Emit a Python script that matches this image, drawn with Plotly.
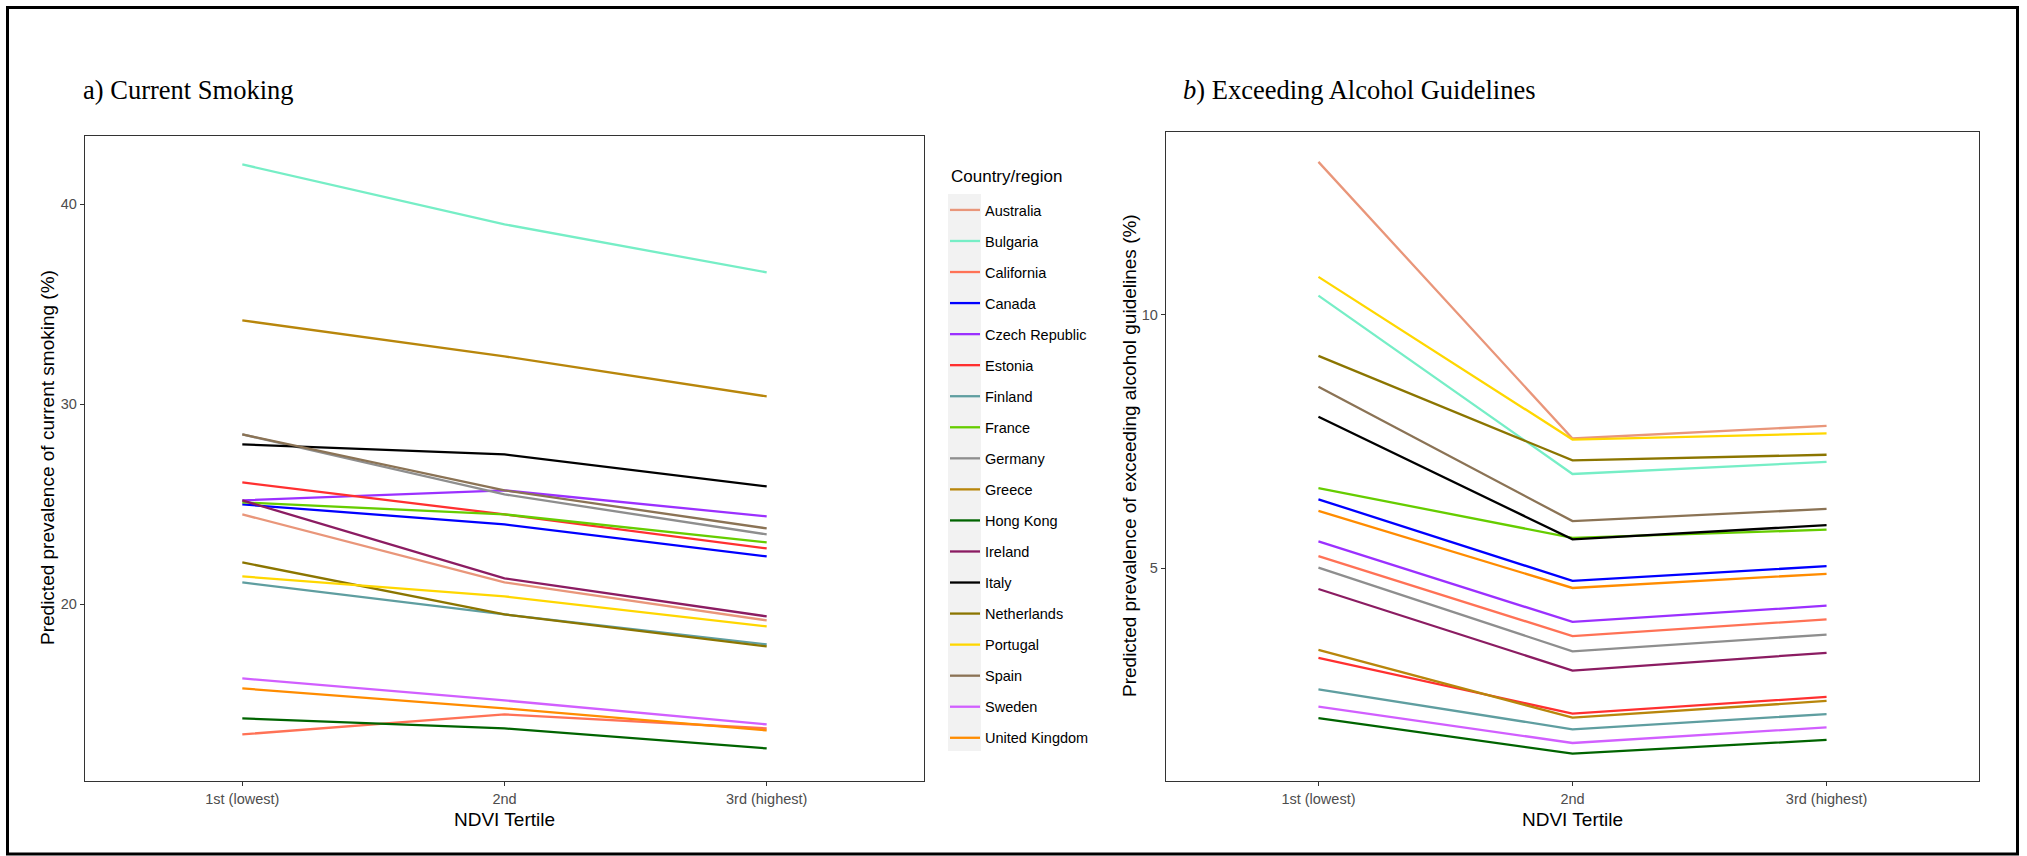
import plotly.graph_objects as go

# NDVI tertile categories
tertiles = ["1st (lowest)", "2nd", "3rd (highest)"]

countries = [
    "Australia", "Bulgaria", "California", "Canada", "Czech Republic",
    "Estonia", "Finland", "France", "Germany", "Greece", "Hong Kong",
    "Ireland", "Italy", "Netherlands", "Portugal", "Spain", "Sweden",
    "United Kingdom",
]

colors = [
    "#E9967A", "#76EEC6", "#FF7256", "#0000FF", "#9B30FF",
    "#FF3030", "#5F9EA0", "#66CD00", "#8E8E8E", "#B8860B", "#006400",
    "#8B1C62", "#000000", "#8B7500", "#FFD700", "#8B7355", "#D15FFF",
    "#FF8C00",
]

# Predicted prevalence of current smoking (%) by tertile
smoking = [
    [24.5, 21.1, 19.2],   # Australia
    [42.0, 39.0, 36.6],   # Bulgaria
    [13.5, 14.5, 13.8],   # California
    [25.0, 24.0, 22.4],   # Canada
    [25.2, 25.7, 24.4],   # Czech Republic
    [26.1, 24.5, 22.8],   # Estonia
    [21.1, 19.5, 18.0],   # Finland
    [25.1, 24.5, 23.1],   # France
    [28.5, 25.5, 23.5],   # Germany
    [34.2, 32.4, 30.4],   # Greece
    [14.3, 13.8, 12.8],   # Hong Kong
    [25.2, 21.3, 19.4],   # Ireland
    [28.0, 27.5, 25.9],   # Italy
    [22.1, 19.5, 17.9],   # Netherlands
    [21.4, 20.4, 18.9],   # Portugal
    [28.5, 25.7, 23.8],   # Spain
    [16.3, 15.2, 14.0],   # Sweden
    [15.8, 14.8, 13.7],   # United Kingdom
]

# Predicted prevalence of exceeding alcohol guidelines (%) by tertile
alcohol = [
    [13.02, 7.56, 7.81],  # Australia
    [10.38, 6.86, 7.10],  # Bulgaria
    [5.24, 3.66, 3.99],   # California
    [6.36, 4.75, 5.04],   # Canada
    [5.53, 3.94, 4.26],   # Czech Republic
    [3.23, 2.13, 2.46],   # Estonia
    [2.61, 1.82, 2.12],   # Finland
    [6.58, 5.60, 5.76],   # France
    [5.01, 3.36, 3.69],   # Germany
    [3.39, 2.05, 2.38],   # Greece
    [2.04, 1.34, 1.61],   # Hong Kong
    [4.59, 2.98, 3.33],   # Ireland
    [7.99, 5.57, 5.85],   # Italy
    [9.19, 7.13, 7.24],   # Netherlands
    [10.75, 7.54, 7.66],  # Portugal
    [8.58, 5.93, 6.17],   # Spain
    [2.27, 1.55, 1.86],   # Sweden
    [6.13, 4.61, 4.89],   # United Kingdom
]

W, H = 2027, 856


def px_x(p):
    return p / W


def px_y(p):
    return 1 - p / H


fig = go.Figure()
for name, col, s, a in zip(countries, colors, smoking, alcohol):
    fig.add_trace(go.Scatter(
        x=tertiles, y=s, mode="lines", name=name, legendgroup=name,
        line=dict(color=col, width=2.3), xaxis="x", yaxis="y",
    ))
    fig.add_trace(go.Scatter(
        x=tertiles, y=a, mode="lines", name=name, legendgroup=name,
        showlegend=False,
        line=dict(color=col, width=2.3), xaxis="x2", yaxis="y2",
    ))

sans = "Liberation Sans, Arial, sans-serif"
serif = "Liberation Serif, Times New Roman, serif"
tick_font = dict(family=sans, size=14.5, color="#4D4D4D")
title_font = dict(family=sans, size=19, color="#000000")

common_x = dict(
    type="category", categoryorder="array", categoryarray=tertiles,
    range=[-0.6, 2.6], showgrid=False, zeroline=False,
    showline=True, mirror=True, linecolor="#333333", linewidth=1.3,
    ticks="outside", ticklen=4, tickcolor="#333333", tickwidth=1.1,
    tickfont=tick_font, title=dict(text="NDVI Tertile", font=title_font, standoff=7),
)
common_y = dict(
    showgrid=False, zeroline=False,
    showline=True, mirror=True, linecolor="#333333", linewidth=1.3,
    ticks="outside", ticklen=4, tickcolor="#333333", tickwidth=1.1,
    tickfont=tick_font,
)

fig.update_layout(
    width=W, height=H,
    margin=dict(l=0, r=0, t=0, b=0),
    paper_bgcolor="white", plot_bgcolor="white",
    xaxis=dict(common_x, domain=[px_x(85), px_x(924)], anchor="y"),
    yaxis=dict(common_y, domain=[px_y(781), px_y(136)], anchor="x",
               range=[11.17, 43.42], tickvals=[20, 30, 40]),
    xaxis2=dict(common_x, domain=[px_x(1166), px_x(1979)], anchor="y2"),
    yaxis2=dict(common_y, domain=[px_y(781), px_y(132)], anchor="x2",
                range=[0.8, 13.61], tickvals=[5, 10]),
    showlegend=True,
    legend=dict(
        x=px_x(945), y=px_y(194), xanchor="left", yanchor="top",
        bgcolor="rgba(0,0,0,0)", traceorder="grouped", tracegroupgap=9.2,
        font=dict(family=sans, size=14.5, color="#000000"),
        itemwidth=30,
    ),
    annotations=[
        dict(text="a) Current Smoking", x=px_x(81), y=px_y(90),
             xref="paper", yref="paper", xanchor="left", yanchor="middle",
             showarrow=False, font=dict(family=serif, size=26.5, color="#000000")),
        dict(text="<i>b</i>) Exceeding Alcohol Guidelines", x=px_x(1181), y=px_y(90),
             xref="paper", yref="paper", xanchor="left", yanchor="middle",
             showarrow=False, font=dict(family=serif, size=26.5, color="#000000")),
        dict(text="Predicted prevalence of current smoking (%)", x=px_x(47), y=px_y(458),
             xref="paper", yref="paper", xanchor="center", yanchor="middle",
             textangle=-90, showarrow=False, font=title_font),
        dict(text="Predicted prevalence of exceeding alcohol guidelines (%)",
             x=px_x(1130), y=px_y(456),
             xref="paper", yref="paper", xanchor="center", yanchor="middle",
             textangle=-90, showarrow=False, font=title_font),
        dict(text="Country/region", x=px_x(949), y=px_y(177),
             xref="paper", yref="paper", xanchor="left", yanchor="middle",
             showarrow=False, font=dict(family=sans, size=17, color="#000000")),
    ],
    shapes=[
        # grey backing behind the legend keys
        dict(type="rect", xref="paper", yref="paper",
             x0=px_x(948), x1=px_x(981), y0=px_y(751), y1=px_y(194),
             fillcolor="#F2F2F2", line=dict(width=0), layer="below"),
        # outer frame
        dict(type="rect", xref="paper", yref="paper",
             x0=px_x(7.5), x1=px_x(2017.5), y0=px_y(854), y1=px_y(7.5),
             line=dict(color="#000000", width=3), fillcolor="rgba(0,0,0,0)"),
    ],
)

fig.write_html("out.html")
